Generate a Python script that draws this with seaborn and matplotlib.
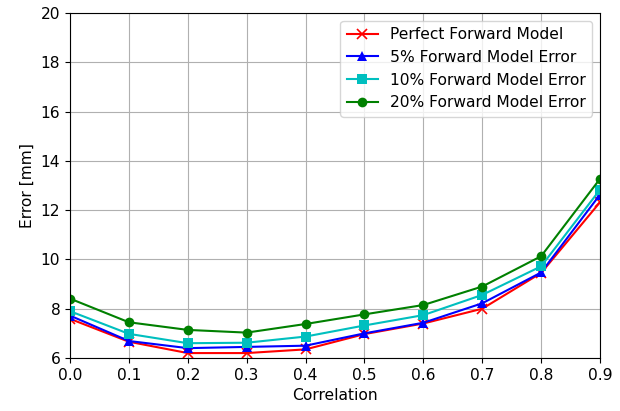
import matplotlib
matplotlib.use("Agg")
import matplotlib.pyplot as plt
import seaborn as sns
import pandas as pd

correlation = [0.0, 0.1, 0.2, 0.3, 0.4, 0.5, 0.6, 0.7, 0.8, 0.9]
perfect = [7.59, 6.66, 6.2, 6.2, 6.35, 6.97, 7.4, 8.0, 9.45, 12.32]
err5 = [7.72, 6.69, 6.4, 6.45, 6.5, 7.0, 7.43, 8.22, 9.47, 12.63]
err10 = [7.9, 6.98, 6.6, 6.62, 6.87, 7.32, 7.74, 8.56, 9.72, 12.83]
err20 = [8.41, 7.45, 7.14, 7.03, 7.38, 7.77, 8.15, 8.9, 10.13, 13.27]

labels = ["Perfect Forward Model", "5% Forward Model Error",
          "10% Forward Model Error", "20% Forward Model Error"]
series = [perfect, err5, err10, err20]
colors = ["red", "blue", "c", "green"]
markers = ["x", "^", "s", "o"]

plt.rcParams["font.size"] = 11.2

fig = plt.figure(figsize=(6.2, 4.11), dpi=100)
ax = fig.add_axes([70/620, 53/411, 530/620, 345/411])

for lab, vals, c, m in zip(labels, series, colors, markers):
    df = pd.DataFrame({"Correlation": correlation, "Error": vals})
    sns.lineplot(data=df, x="Correlation", y="Error", ax=ax, color=c,
                 marker=m, markersize=7, linewidth=1.5, label=lab,
                 markeredgecolor=c, markeredgewidth=1.2 if m == "x" else 0)

ax.set_xlim(0.0, 0.9)
ax.set_ylim(6, 20)
ax.set_xticks(correlation)
ax.set_xticklabels([f"{v:.1f}" for v in correlation])
ax.set_yticks([6, 8, 10, 12, 14, 16, 18, 20])
ax.set_xlabel("Correlation")
ax.set_ylabel("Error [mm]")
ax.grid(True, color="#b0b0b0", linewidth=0.8)
ax.legend(loc="upper right", fontsize=11.2)

fig.savefig("out.png", dpi=100)
